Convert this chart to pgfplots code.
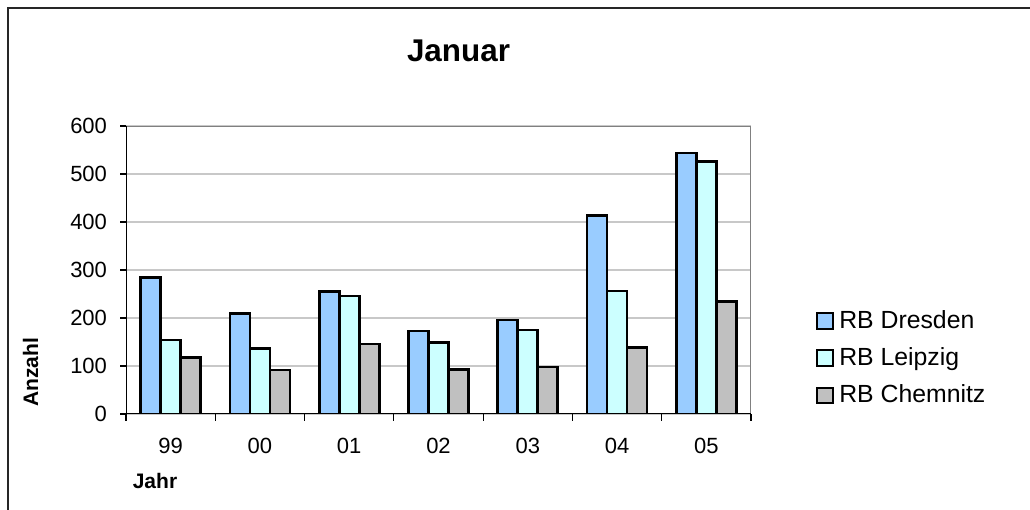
\documentclass[border=0pt]{standalone}
\usepackage{pgfplots}
\pgfplotsset{compat=1.18}
\usepackage{fontspec}
\setmainfont{Liberation Sans}

\definecolor{dresden}{HTML}{99CCFF}
\definecolor{leipzig}{HTML}{CCFFFF}
\definecolor{chemnitz}{HTML}{C0C0C0}
\definecolor{gridgray}{HTML}{C8C8C8}
\definecolor{boxgray}{HTML}{808080}

\begin{document}
\begin{tikzpicture}
% chart area (1 px = 0.5bp)
\useasboundingbox (0bp,0bp) rectangle (515bp,255bp);
\draw[line width=1bp, black!85] (4bp,0bp) -- (4bp,251bp) -- (515bp,251bp);

\node[font=\fontsize{15.7bp}{18bp}\selectfont\bfseries] at (229.25bp,229.5bp) {Januar};
\node[font=\fontsize{10.5bp}{12bp}\selectfont\bfseries] at (77.5bp,14.5bp) {Jahr};
\node[font=\fontsize{10.5bp}{12bp}\selectfont\bfseries, rotate=90] at (15.25bp,68.75bp) {Anzahl};

\begin{axis}[
    at={(63bp,48bp)}, anchor=south west,
    scale only axis,
    width=312.5bp, height=144bp,
    ybar=0pt, bar width=0.224,
    xmin=-0.5, xmax=6.5,
    ymin=0, ymax=600,
    xtick={0,...,6},
    xticklabels={99,00,01,02,03,04,05},
    minor xtick={-0.5,0.5,...,6.5},
    major x tick style={draw=none},
    ytick={0,100,...,600},
    tick pos=left,
    tick align=outside,
    tick style={black, line width=0.6bp},
    major tick length=3bp, minor tick length=3.5bp,
    ymajorgrids, grid style={gridgray, line width=0.6bp},
    axis line style={draw=none},
    ticklabel style={font=\fontsize{11bp}{12bp}\selectfont},
    /pgf/number format/assume math mode=true,
    xticklabel style={yshift=-5.5bp},
    yticklabel style={xshift=-3bp},
    every axis plot/.append style={draw=black, line width=1.3bp},
    legend style={at={(1.094,0.194)}, anchor=west, draw=none, fill=none,
        font=\fontsize{12.4bp}{14bp}\selectfont, row sep=4.2bp,
        /tikz/every odd column/.append style={column sep=0.5bp}},
    legend cell align=left,
    legend image code/.code={\draw[#1, line width=1.1bp] (0bp,-3.9bp) rectangle (8bp,3.9bp);},
]
\addplot[fill=dresden] coordinates {(0,284) (1,210) (2,255) (3,173) (4,196) (5,413) (6,544)};
\addlegendentry{RB Dresden}
\addplot[fill=leipzig] coordinates {(0,154) (1,137) (2,246) (3,149) (4,175) (5,256) (6,526)};
\addlegendentry{RB Leipzig}
\addplot[fill=chemnitz] coordinates {(0,118) (1,92) (2,146) (3,93) (4,98) (5,138) (6,234)};
\addlegendentry{RB Chemnitz}

\draw[boxgray, line width=1bp] (rel axis cs:0,1) -- (rel axis cs:1,1) -- (rel axis cs:1,0);
\draw[black, line width=0.8bp] (rel axis cs:0,1) -- (rel axis cs:0,0) -- (rel axis cs:1,0);
\end{axis}
\end{tikzpicture}
\end{document}
